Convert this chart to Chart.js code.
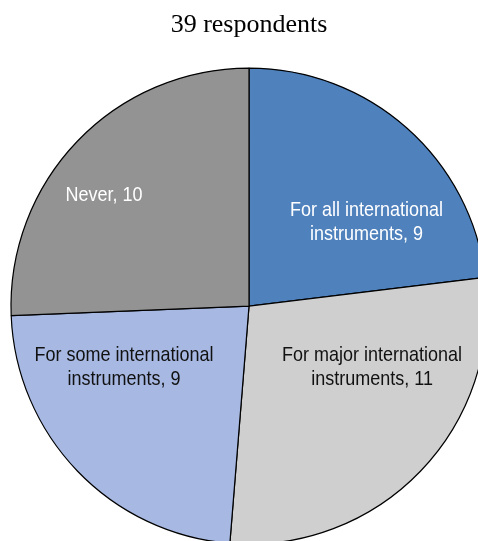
<!DOCTYPE html>
<html>
<head>
<meta charset="utf-8">
<script src="https://cdn.jsdelivr.net/npm/chart.js@4/dist/chart.umd.min.js"></script>
<style>
  html, body { margin: 0; padding: 0; background: #fff; overflow: hidden; width: 478px; height: 541px; }
  #wrap { position: absolute; left: 0; top: 0; width: 498px; height: 567px; }
</style>
</head>
<body>
<div id="wrap"><canvas id="c"></canvas></div>
<script>
const titleText = "39 respondents";
const categories = [
  ["For all international", "instruments, 9"],
  ["For major international", "instruments, 11"],
  ["For some international", "instruments, 9"],
  ["Never, 10"]
];
const values = [9, 11, 9, 10];
const sliceColors = ["#4F81BD", "#CFCFCF", "#A7B9E3", "#939393"];
const labelColors = ["#FFFFFF", "#111111", "#111111", "#FFFFFF"];
// label block centre, as a fraction of the pie radius, relative to pie centre
const labelOffsets = [[0.494, -0.359], [0.517, 0.250], [-0.525, 0.250], [-0.609, -0.475]];

const sliceLabels = {
  id: "sliceLabels",
  afterDatasetsDraw(chart) {
    const ctx = chart.ctx;
    const meta = chart.getDatasetMeta(0);
    const capH = 15, gap = 24, fontPx = 21, squeeze = 0.857;
    meta.data.forEach((arc, i) => {
      const R = arc.outerRadius;
      const cx = arc.x + labelOffsets[i][0] * R;
      const cy = arc.y + labelOffsets[i][1] * R;
      const lines = categories[i];
      ctx.save();
      ctx.font = fontPx + 'px "Liberation Sans", Arial, sans-serif';
      ctx.fillStyle = labelColors[i];
      ctx.textAlign = "center";
      ctx.textBaseline = "alphabetic";
      lines.forEach((ln, k) => {
        const y = cy + capH / 2 + (k - (lines.length - 1) / 2) * gap;
        ctx.save();
        ctx.translate(cx, y);
        ctx.scale(squeeze, 1);
        ctx.fillText(ln, 0, 0);
        ctx.restore();
      });
      ctx.restore();
    });
  }
};

new Chart(document.getElementById("c"), {
  type: "pie",
  data: {
    labels: categories.map(l => l.join(" ")),
    datasets: [{
      data: values,
      backgroundColor: sliceColors,
      borderColor: "#000000",
      borderWidth: 1.2,
      radius: 238
    }]
  },
  options: {
    responsive: true,
    maintainAspectRatio: false,
    animation: false,
    layout: { padding: 0 },
    plugins: {
      legend: { display: false },
      tooltip: { enabled: false },
      title: {
        display: true,
        text: titleText,
        color: "#000000",
        font: { family: '"Liberation Serif", "Times New Roman", serif', size: 26, weight: "normal", lineHeight: 1.2 },
        padding: { top: 10, bottom: 4 }
      }
    }
  },
  plugins: [sliceLabels]
});
</script>
</body>
</html>
